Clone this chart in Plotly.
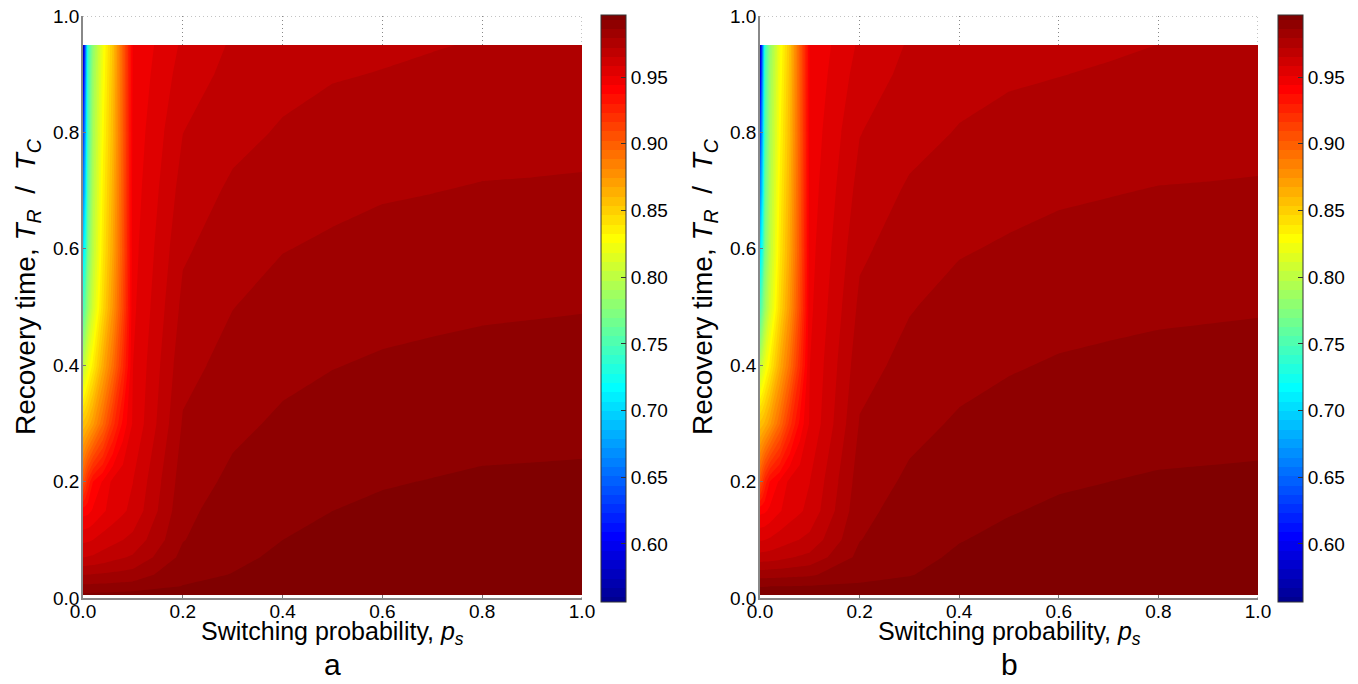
import plotly.graph_objects as go

# ---------------- data ----------------
p_s = [0, 0.005, 0.01, 0.02, 0.04, 0.06, 0.08, 0.1, 0.2, 0.3, 0.4, 0.5, 0.6, 0.7, 0.8, 0.9, 1.0]
t_r = [0.005, 0.02, 0.04, 0.07, 0.1, 0.15, 0.2, 0.3, 0.4, 0.5, 0.6, 0.7, 0.8, 0.9, 0.95]

# rows follow t_r, columns follow p_s
z_a = [
    [0.9945, 0.9945, 0.9946, 0.9948, 0.9950, 0.9953, 0.9956, 0.9960, 0.9945, 0.9950, 0.9965, 0.9970, 0.9975, 0.9978, 0.9980, 0.9983, 0.9985],
    [0.9875, 0.9875, 0.9876, 0.9878, 0.9880, 0.9883, 0.9886, 0.9890, 0.9932, 0.9945, 0.9960, 0.9965, 0.9970, 0.9973, 0.9975, 0.9978, 0.9980],
    [0.9790, 0.9790, 0.9792, 0.9795, 0.9800, 0.9807, 0.9813, 0.9820, 0.9915, 0.9932, 0.9950, 0.9960, 0.9965, 0.9968, 0.9970, 0.9973, 0.9975],
    [0.9650, 0.9652, 0.9655, 0.9660, 0.9680, 0.9700, 0.9715, 0.9730, 0.9880, 0.9918, 0.9940, 0.9950, 0.9960, 0.9962, 0.9965, 0.9967, 0.9970],
    [0.9565, 0.9567, 0.9570, 0.9580, 0.9610, 0.9630, 0.9650, 0.9670, 0.9857, 0.9910, 0.9930, 0.9945, 0.9950, 0.9953, 0.9958, 0.9960, 0.9962],
    [0.9410, 0.9415, 0.9420, 0.9450, 0.9500, 0.9540, 0.9570, 0.9600, 0.9842, 0.9895, 0.9915, 0.9930, 0.9940, 0.9945, 0.9950, 0.9952, 0.9955],
    [0.9050, 0.9150, 0.9250, 0.9370, 0.9450, 0.9530, 0.9560, 0.9580, 0.9827, 0.9875, 0.9900, 0.9916, 0.9926, 0.9932, 0.9938, 0.9939, 0.9940],
    [0.8550, 0.8580, 0.8620, 0.8720, 0.8950, 0.9200, 0.9390, 0.9520, 0.9797, 0.9845, 0.9871, 0.9886, 0.9897, 0.9903, 0.9909, 0.9912, 0.9915],
    [0.8000, 0.8100, 0.8200, 0.8350, 0.8650, 0.8920, 0.9220, 0.9510, 0.9768, 0.9815, 0.9843, 0.9858, 0.9868, 0.9874, 0.9880, 0.9883, 0.9886],
    [0.7450, 0.7650, 0.7850, 0.8100, 0.8450, 0.8750, 0.9100, 0.9495, 0.9739, 0.9789, 0.9817, 0.9830, 0.9840, 0.9846, 0.9851, 0.9854, 0.9857],
    [0.7000, 0.7300, 0.7700, 0.8000, 0.8380, 0.8680, 0.9050, 0.9485, 0.9710, 0.9760, 0.9788, 0.9801, 0.9812, 0.9817, 0.9823, 0.9826, 0.9829],
    [0.6600, 0.7000, 0.7600, 0.7950, 0.8340, 0.8640, 0.9030, 0.9475, 0.9680, 0.9733, 0.9758, 0.9773, 0.9784, 0.9789, 0.9795, 0.9797, 0.9800],
    [0.6200, 0.6800, 0.7500, 0.7900, 0.8300, 0.8600, 0.9010, 0.9465, 0.9650, 0.9700, 0.9728, 0.9745, 0.9753, 0.9760, 0.9767, 0.9768, 0.9770],
    [0.5800, 0.6600, 0.7450, 0.7850, 0.8260, 0.8570, 0.9000, 0.9455, 0.9613, 0.9673, 0.9700, 0.9716, 0.9723, 0.9732, 0.9740, 0.9743, 0.9745],
    [0.5600, 0.6500, 0.7400, 0.7800, 0.8240, 0.8550, 0.9000, 0.9450, 0.9594, 0.9660, 0.9685, 0.9702, 0.9710, 0.9717, 0.9725, 0.9728, 0.9730],
]

z_b = [
    [0.9960, 0.9960, 0.9960, 0.9961, 0.9962, 0.9963, 0.9964, 0.9965, 0.9955, 0.9958, 0.9965, 0.9970, 0.9975, 0.9978, 0.9980, 0.9983, 0.9985],
    [0.9928, 0.9928, 0.9929, 0.9930, 0.9931, 0.9932, 0.9933, 0.9934, 0.9937, 0.9945, 0.9958, 0.9965, 0.9970, 0.9973, 0.9975, 0.9978, 0.9980],
    [0.9830, 0.9830, 0.9831, 0.9833, 0.9836, 0.9840, 0.9845, 0.9850, 0.9915, 0.9928, 0.9948, 0.9958, 0.9964, 0.9967, 0.9970, 0.9973, 0.9975],
    [0.9680, 0.9682, 0.9684, 0.9688, 0.9700, 0.9715, 0.9728, 0.9740, 0.9880, 0.9915, 0.9938, 0.9948, 0.9958, 0.9961, 0.9964, 0.9967, 0.9970],
    [0.9575, 0.9577, 0.9580, 0.9590, 0.9615, 0.9635, 0.9652, 0.9670, 0.9858, 0.9905, 0.9928, 0.9942, 0.9949, 0.9953, 0.9957, 0.9960, 0.9962],
    [0.9420, 0.9425, 0.9430, 0.9455, 0.9505, 0.9545, 0.9572, 0.9600, 0.9840, 0.9890, 0.9912, 0.9927, 0.9938, 0.9943, 0.9949, 0.9952, 0.9955],
    [0.9060, 0.9160, 0.9260, 0.9375, 0.9455, 0.9530, 0.9560, 0.9580, 0.9825, 0.9872, 0.9897, 0.9913, 0.9924, 0.9930, 0.9936, 0.9938, 0.9940],
    [0.8550, 0.8580, 0.8620, 0.8720, 0.8950, 0.9200, 0.9390, 0.9520, 0.9795, 0.9842, 0.9868, 0.9883, 0.9895, 0.9901, 0.9907, 0.9910, 0.9913],
    [0.8000, 0.8100, 0.8200, 0.8350, 0.8650, 0.8920, 0.9220, 0.9510, 0.9765, 0.9812, 0.9840, 0.9855, 0.9866, 0.9872, 0.9878, 0.9881, 0.9884],
    [0.7450, 0.7650, 0.7850, 0.8100, 0.8450, 0.8750, 0.9100, 0.9495, 0.9736, 0.9786, 0.9814, 0.9827, 0.9838, 0.9844, 0.9849, 0.9852, 0.9855],
    [0.7000, 0.7300, 0.7700, 0.8000, 0.8380, 0.8680, 0.9050, 0.9485, 0.9707, 0.9757, 0.9785, 0.9798, 0.9809, 0.9815, 0.9821, 0.9824, 0.9827],
    [0.6600, 0.7000, 0.7600, 0.7950, 0.8340, 0.8640, 0.9030, 0.9475, 0.9677, 0.9730, 0.9755, 0.9770, 0.9781, 0.9787, 0.9793, 0.9795, 0.9798],
    [0.6200, 0.6800, 0.7500, 0.7900, 0.8300, 0.8600, 0.9010, 0.9465, 0.9648, 0.9697, 0.9725, 0.9741, 0.9750, 0.9757, 0.9764, 0.9766, 0.9768],
    [0.5800, 0.6600, 0.7450, 0.7850, 0.8260, 0.8570, 0.9000, 0.9455, 0.9612, 0.9670, 0.9697, 0.9712, 0.9719, 0.9727, 0.9734, 0.9739, 0.9743],
    [0.5600, 0.6500, 0.7400, 0.7800, 0.8240, 0.8550, 0.9000, 0.9450, 0.9593, 0.9658, 0.9682, 0.9695, 0.9705, 0.9712, 0.9721, 0.9726, 0.9730],
]

x_ticks = [0.0, 0.2, 0.4, 0.6, 0.8, 1.0]
y_ticks = [0.0, 0.2, 0.4, 0.6, 0.8, 1.0]
cbar_ticks = [0.60, 0.65, 0.70, 0.75, 0.80, 0.85, 0.90, 0.95]
panel_labels = ["a", "b"]
x_title = "Switching probability, <i>p<sub>s</sub></i>"
y_title = "Recovery time, <i>T<sub>R</sub></i>&nbsp; /&nbsp; <i>T<sub>C</sub></i>"

# ---------------- style ----------------
W, H = 1358, 684
C_MIN, C_MAX, N_COL = 0.553, 1.0, 64
CS = (C_MAX - C_MIN) / N_COL
FONT = "Liberation Sans, Arial, Helvetica, sans-serif"
TICK_SIZE = 19
XTITLE_SIZE = 25
YTITLE_SIZE = 28


def matlab_jet(m=64):
    n = -(-m // 4)
    u = [i / n for i in range(1, n + 1)] + [1.0] * (n - 1) + [i / n for i in range(n, 0, -1)]
    g0 = -(-n // 2) - (1 if m % 4 == 1 else 0)
    cols = [[0.0, 0.0, 0.0] for _ in range(m)]
    for k, val in enumerate(u):
        g = g0 + k + 1
        r = g + n
        b = g - n
        if 1 <= r <= m:
            cols[r - 1][0] = val
        if 1 <= g <= m:
            cols[g - 1][1] = val
        if 1 <= b <= m:
            cols[b - 1][2] = val
    return ["rgb(%d,%d,%d)" % tuple(round(c * 255) for c in col) for col in cols]


jet = matlab_jet(N_COL)
colorscale = [[i / (N_COL - 1), jet[i]] for i in range(N_COL)]

px2x = lambda px: px / W
px2y = lambda py: 1 - py / H

panels = [
    dict(z=z_a, x0=83, x1=582, cb=601, xa="x", ya="y", ytx=28),
    dict(z=z_b, x0=760, x1=1258, cb=1278, xa="x2", ya="y2", ytx=705),
]
Y_TOP, Y_BOT = 16, 598

fig = go.Figure()
annotations = []
shapes = []
layout = dict(
    width=W, height=H,
    margin=dict(l=0, r=0, t=0, b=0, autoexpand=False),
    paper_bgcolor="white", plot_bgcolor="white",
    font=dict(family=FONT, size=TICK_SIZE, color="black"),
    showlegend=False,
)

for k, p in enumerate(panels):
    fig.add_trace(go.Contour(
        x=p_s, y=t_r, z=p["z"],
        xaxis=p["xa"], yaxis=p["ya"],
        colorscale=colorscale,
        autocontour=False,
        contours=dict(start=C_MIN + CS, end=C_MIN + (N_COL - 1) * CS, size=CS,
                      coloring="fill", showlines=False),
        line=dict(width=0, smoothing=0),
        hoverinfo="skip",
        colorbar=dict(
            x=px2x(p["cb"]), xanchor="left", xpad=0,
            y=px2y(15), yanchor="top", ypad=0,
            len=587, lenmode="pixels",
            thickness=25, thicknessmode="pixels",
            outlinewidth=1, outlinecolor="#333",
            tickvals=cbar_ticks, ticktext=["%.2f" % v for v in cbar_ticks],
            ticks="inside", ticklen=5, tickcolor="#333",
            tickfont=dict(family=FONT, size=TICK_SIZE, color="black"),
        ),
    ))
    xa_name = "xaxis" if k == 0 else "xaxis2"
    ya_name = "yaxis" if k == 0 else "yaxis2"
    common = dict(
        range=[0, 1], ticks="inside", ticklen=3, tickcolor="#777",
        showline=True, linecolor="#888", linewidth=1.5,
        showgrid=True, gridcolor="#888", griddash="1px,3px", gridwidth=1,
        zeroline=False, automargin=False,
        tickfont=dict(family=FONT, size=TICK_SIZE, color="black"),
    )
    layout[xa_name] = dict(
        domain=[px2x(p["x0"]), px2x(p["x1"])], anchor=p["ya"],
        tickvals=x_ticks, ticktext=["%.1f" % v for v in x_ticks],
        ticklabelstandoff=-5, **common)
    layout[ya_name] = dict(
        domain=[px2y(Y_BOT), px2y(Y_TOP)], anchor=p["xa"],
        tickvals=y_ticks, ticktext=["%.1f" % v for v in y_ticks],
        ticklabelstandoff=-2, **common)

    # dotted top and right frame (grid lines at 1.0)
    for (x0, y0, x1, y1) in [(0, 1, 1, 1), (1, 0, 1, 1)]:
        shapes.append(dict(type="line", xref=p["xa"], yref=p["ya"],
                           x0=x0, y0=y0, x1=x1, y1=y1, layer="below",
                           line=dict(color="#888", width=1, dash="1px,3px")))

    xc = (p["x0"] + p["x1"]) / 2
    annotations.append(dict(text=x_title, xref="paper", yref="paper",
                            x=px2x(xc), y=px2y(633), xanchor="center", yanchor="middle",
                            showarrow=False, font=dict(family=FONT, size=XTITLE_SIZE)))
    annotations.append(dict(text=y_title, xref="paper", yref="paper",
                            x=px2x(p["ytx"]), y=px2y(287), xanchor="center", yanchor="middle",
                            textangle=-90, showarrow=False,
                            font=dict(family=FONT, size=YTITLE_SIZE)))
    annotations.append(dict(text=panel_labels[k], xref="paper", yref="paper",
                            x=px2x(xc), y=px2y(664), xanchor="center", yanchor="middle",
                            showarrow=False, font=dict(family=FONT, size=30)))

layout["annotations"] = annotations
layout["shapes"] = shapes
fig.update_layout(**layout)
fig.write_html("out.html", config={"displayModeBar": False},
               post_script="document.body.style.margin='0px';")
